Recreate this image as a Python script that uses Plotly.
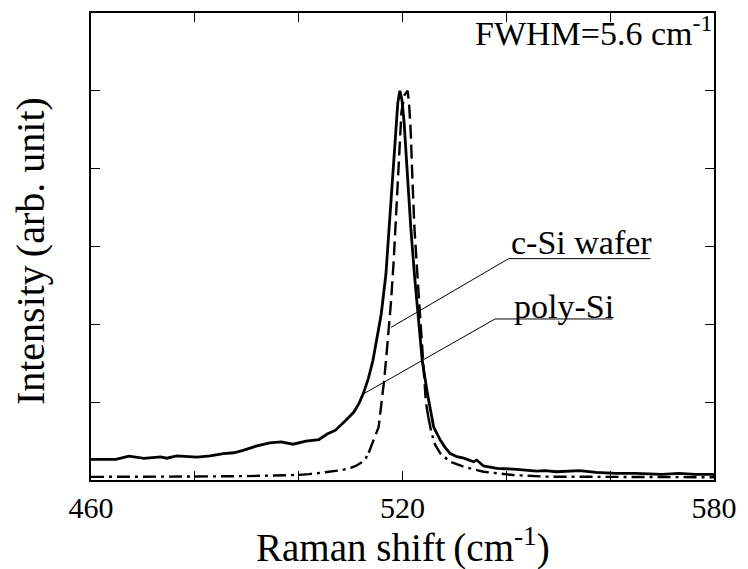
import plotly.graph_objects as go

# Raman shift (cm-1) and intensity (arb. unit)
poly_x = [460.0, 462.5, 464.8, 467.3, 470.2, 473.4, 474.6, 476.5, 478.5, 480.4,
          483.0, 485.5, 487.5, 489.3, 491.8, 494.4, 496.6, 498.9, 501.4, 503.9,
          505.5, 507.1, 509.0, 510.6, 511.6, 512.5, 513.4, 514.3, 515.1, 515.9,
          516.8, 517.4, 518.1, 518.7, 519.1, 519.5, 519.9, 520.3, 520.9, 521.6,
          522.3, 523.0, 523.8, 524.8, 526.0, 527.3, 528.2, 529.2, 530.5, 531.8,
          533.7, 534.3, 535.6, 538.2, 540.0, 542.0, 545.8, 547.5, 549.6, 552.0,
          554.1, 557.3, 561.1, 564.9, 567.5, 570.0, 573.2, 576.4, 579.6, 580.0]
poly_y = [0.265, 0.26, 0.265, 0.307, 0.277, 0.298, 0.28, 0.31, 0.30, 0.294,
          0.31, 0.34, 0.35, 0.38, 0.435, 0.477, 0.49, 0.46, 0.50, 0.52,
          0.59, 0.64, 0.76, 0.87, 0.98, 1.12, 1.30, 1.535, 1.83, 2.13,
          2.64, 3.24, 3.92, 4.58, 4.85, 5.0, 4.88, 4.6, 3.92, 3.24,
          2.64, 2.13, 1.535, 1.11, 0.68, 0.51, 0.42, 0.34, 0.30, 0.28,
          0.235, 0.256, 0.18, 0.15, 0.145, 0.137, 0.115, 0.12, 0.106, 0.11,
          0.12, 0.098, 0.085, 0.085, 0.075, 0.073, 0.085, 0.073, 0.073, 0.07]

csi_x = [460.0, 470.0, 480.0, 490.0, 495.0, 499.5, 502.0, 504.6, 506.5, 508.4,
         510.0, 511.0, 512.0, 512.9, 513.5, 514.1, 514.8, 515.4, 515.7, 516.1,
         516.5, 517.1, 517.8, 518.3, 518.8, 519.3, 519.8, 520.4, 521.0, 521.3,
         521.6, 521.9, 522.3, 522.9, 523.5, 524.1, 524.5, 525.0, 525.6, 526.3,
         527.3, 529.2, 531.8, 535.6, 541.3, 547.7, 560.0, 570.0, 580.0]
csi_y = [0.04, 0.04, 0.045, 0.05, 0.055, 0.064, 0.075, 0.094, 0.11, 0.128,
         0.155, 0.18, 0.22, 0.277, 0.35, 0.448, 0.56, 0.68, 0.85, 1.05,
         1.3, 1.75, 2.30, 2.81, 3.45, 4.09, 4.73, 4.95, 5.0, 4.8,
         4.45, 3.88, 3.24, 2.60, 1.96, 1.32, 1.0, 0.8, 0.6, 0.45,
         0.34, 0.235, 0.17, 0.106, 0.064, 0.043, 0.04, 0.035, 0.035]

x_ticks = [460, 480, 500, 520, 540, 560, 580]
x_tick_text = ["460", "", "", "520", "", "", "580"]
y_ticks = [1, 2, 3, 4, 5]

FONT = "Liberation Serif, Times New Roman, serif"

fig = go.Figure()
# c-Si wafer: dash-dot in the tails, dashed through the peak
lo, hi = 14, 37
tail_dash = "13px,5px,3px,5px"
fig.add_trace(go.Scatter(x=csi_x[:lo + 1], y=csi_y[:lo + 1], mode="lines",
                         line=dict(color="black", width=2.4, dash=tail_dash),
                         showlegend=False))
fig.add_trace(go.Scatter(x=csi_x[lo:hi + 1], y=csi_y[lo:hi + 1], mode="lines",
                         line=dict(color="black", width=2.4, dash="14px,6px"),
                         showlegend=False))
fig.add_trace(go.Scatter(x=csi_x[hi:], y=csi_y[hi:], mode="lines",
                         line=dict(color="black", width=2.4, dash=tail_dash),
                         showlegend=False))
fig.add_trace(go.Scatter(x=poly_x, y=poly_y, mode="lines",
                         line=dict(color="black", width=2.8),
                         showlegend=False))

# leader lines (data coordinates)
leaders = [
    ([517.8, 540.45, 567.8], [1.961, 2.844, 2.844]),
    ([512.55, 537.83, 560.45], [1.109, 2.069, 2.069]),
]
for lx, ly in leaders:
    fig.add_trace(go.Scatter(x=lx, y=ly, mode="lines",
                             line=dict(color="black", width=1),
                             showlegend=False, hoverinfo="skip"))

fig.add_annotation(x=540.6, y=2.79, xref="x", yref="y", text="c-Si wafer",
                   showarrow=False, xanchor="left", yanchor="bottom",
                   font=dict(family=FONT, size=34, color="black"))
fig.add_annotation(x=541.0, y=1.97, xref="x", yref="y", text="poly-Si",
                   showarrow=False, xanchor="left", yanchor="bottom",
                   font=dict(family=FONT, size=34, color="black"))
fig.add_annotation(x=580.0, y=5.47, xref="x", yref="y", text="FWHM=5.6 cm<sup>-1</sup>",
                   showarrow=False, xanchor="right", yanchor="bottom",
                   font=dict(family=FONT, size=34, color="black"))

# axis titles
fig.add_annotation(x=-0.098, y=0.49, xref="paper", yref="paper",
                   text="Intensity\u2009(arb. unit)", textangle=-90, showarrow=False,
                   xanchor="center", yanchor="middle",
                   font=dict(family=FONT, size=40, color="black"))
fig.add_annotation(x=0.5, y=-0.141, xref="paper", yref="paper",
                   text="Raman shift\u2009(cm<sup>-1</sup>)", showarrow=False,
                   xanchor="center", yanchor="middle",
                   font=dict(family=FONT, size=39, color="black"))

fig.update_layout(
    width=748, height=569,
    margin=dict(l=91, r=29, t=11, b=89),
    paper_bgcolor="white", plot_bgcolor="white",
    font=dict(family=FONT, size=30, color="black"),
)
fig.update_xaxes(range=[460, 580], tickvals=x_ticks, ticktext=x_tick_text,
                 ticks="inside", ticklen=9, tickwidth=1, tickcolor="black",
                 showline=True, linecolor="black", linewidth=1.5, mirror="ticks",
                 showgrid=False, zeroline=False,
                 tickfont=dict(family=FONT, size=30))
fig.update_yaxes(range=[0, 6], tickvals=y_ticks, showticklabels=False,
                 ticks="inside", ticklen=9, tickwidth=1, tickcolor="black",
                 showline=True, linecolor="black", linewidth=1.5, mirror="ticks",
                 showgrid=False, zeroline=False)

fig.write_html("out.html")
